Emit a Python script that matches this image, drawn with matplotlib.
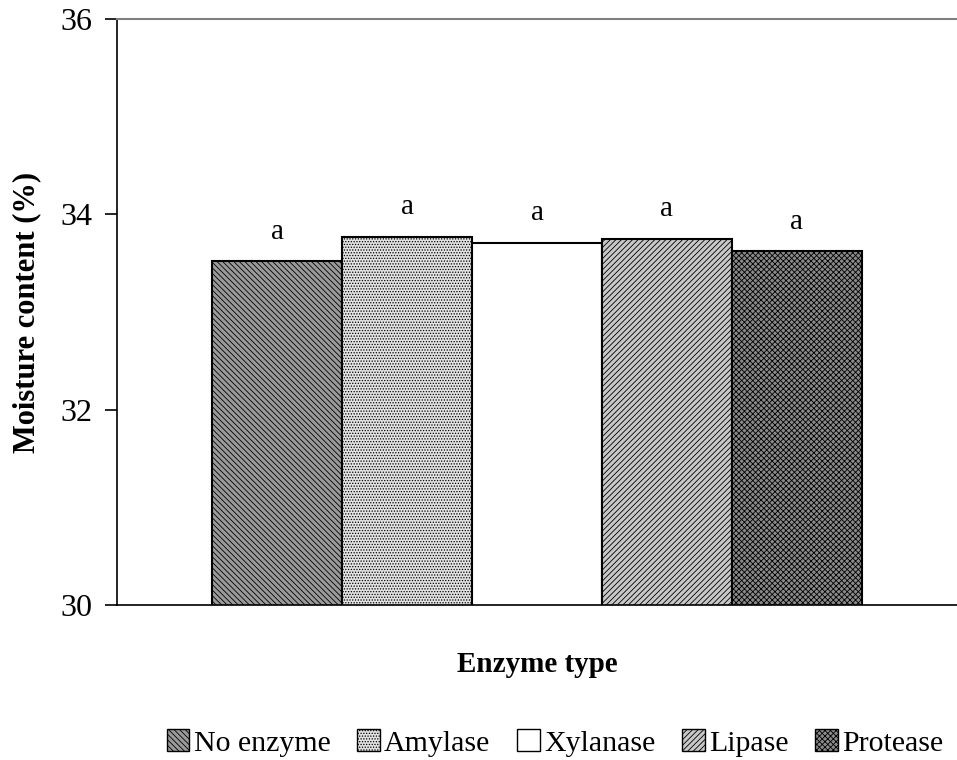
import matplotlib.pyplot as plt
import matplotlib.patches as mpatches
import numpy as np

enzymes = ["No enzyme", "Amylase", "Xylanase", "Lipase", "Protease"]
moisture = [33.52, 33.77, 33.71, 33.75, 33.62]
letters = ["a", "a", "a", "a", "a"]

# look of each bar (fill, hatch) - imitates the old excel patterns
fills = ["#9a9a9a", "#e2e2e2", "#ffffff", "#c8c8c8", "#8a8a8a"]
hatches = ["\\\\\\\\\\\\", "......", "", "//////", "xxxxxx"]

plt.rcParams["font.family"] = ["Liberation Serif", "DejaVu Serif"]
plt.rcParams["hatch.linewidth"] = 0.6
plt.rcParams["hatch.color"] = "#303030"

fig = plt.figure(figsize=(9.57, 7.6), dpi=100)
ax = fig.add_axes([117 / 957, 1 - 605 / 760, 1 - 117 / 957, (605 - 19) / 760])

x = np.arange(len(enzymes))
for i in range(len(enzymes)):
    ax.bar(x[i], moisture[i], width=1.0, bottom=0, color=fills[i], hatch=hatches[i],
           edgecolor="black", linewidth=1.5, label=enzymes[i])
    ax.text(x[i], moisture[i] + 0.17, letters[i], ha="center", va="bottom", fontsize=21)

ax.set_ylim(30, 36)
ax.set_yticks([30, 32, 34, 36])
ax.set_xlim(-1.231, 5.231)
ax.set_xticks([])
ax.tick_params(axis="y", labelsize=23, direction="out", length=9, width=1.2, pad=9)
ax.spines["right"].set_visible(False)
ax.spines["top"].set_color("#808080")
ax.spines["top"].set_linewidth(1.5)
ax.spines["left"].set_linewidth(1.2)
ax.spines["bottom"].set_linewidth(1.2)

fig.text(27 / 957, 1 - 312 / 760, "Moisture content (%)", rotation=90, ha="center", va="center",
         fontsize=22, fontweight="bold")
fig.text(537 / 957, 1 - 665 / 760, "Enzyme type", ha="center", va="center",
         fontsize=21, fontweight="bold")

handles = [mpatches.Patch(facecolor=fills[i], hatch=hatches[i], edgecolor="black", linewidth=1.0)
           for i in range(len(enzymes))]
fig.legend(handles, enzymes, loc="center", bbox_to_anchor=(555 / 957, 1 - 743 / 760), ncol=5,
           frameon=False, fontsize=21.5, handlelength=0.75, handleheight=0.75,
           handletextpad=0.15, columnspacing=0.9)

fig.savefig("out.png", dpi=100)
